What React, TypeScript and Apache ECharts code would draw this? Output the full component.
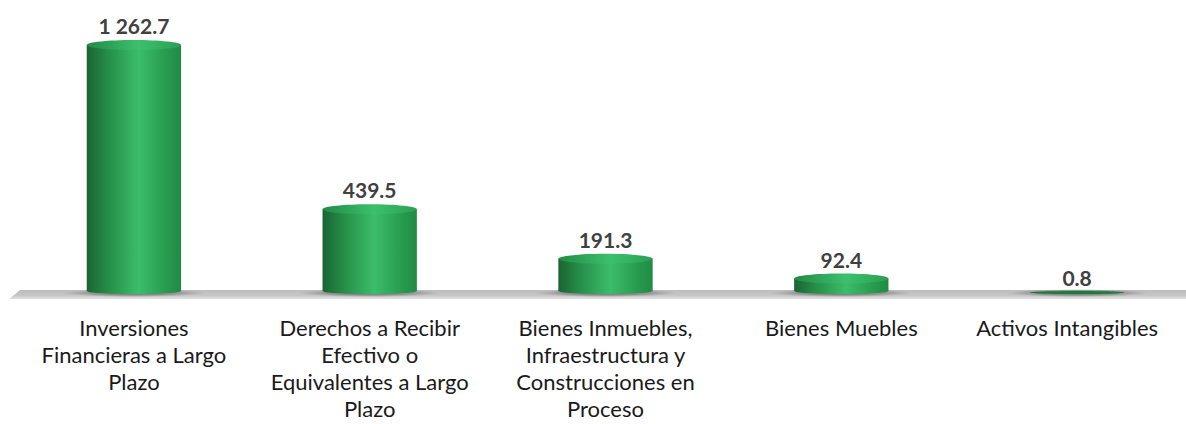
import React, { useEffect, useRef } from "react";
import * as echarts from "echarts";

const categories: string[] = [
  "Inversiones\nFinancieras a Largo\nPlazo",
  "Derechos a Recibir\nEfectivo o\nEquivalentes a Largo\nPlazo",
  "Bienes Inmuebles,\nInfraestructura y\nConstrucciones en\nProceso",
  "Bienes Muebles",
  "Activos Intangibles",
];
const values: number[] = [1262.7, 439.5, 191.3, 92.4, 0.8];

const GRID_LEFT = 16;
const GRID_WIDTH = 1179;
const GRID_TOP = 40;
const GRID_HEIGHT = 252;
const W = 1186;
const H = 424;

function fmt(v: number): string {
  const s = v.toFixed(1);
  const [i, d] = s.split(".");
  return i.replace(/\B(?=(\d{3})+(?!\d))/g, " ") + "." + d;
}

const bodyGrad = {
  type: "linear",
  x: 0,
  y: 0,
  x2: 1,
  y2: 0,
  colorStops: [
    { offset: 0, color: "#1b6332" },
    { offset: 0.2, color: "#248a45" },
    { offset: 0.55, color: "#3bbd6a" },
    { offset: 0.8, color: "#29a052" },
    { offset: 1, color: "#208a44" },
  ],
};
const capGrad = {
  type: "linear",
  x: 0,
  y: 0,
  x2: 1,
  y2: 0,
  colorStops: [
    { offset: 0, color: "#238a45" },
    { offset: 0.55, color: "#3cc06d" },
    { offset: 1, color: "#2a9f53" },
  ],
};

export default function App() {
  const ref = useRef<HTMLDivElement>(null);
  useEffect(() => {
    document.body.style.margin = "0";
    if (!ref.current) return;
    const chart = echarts.init(ref.current, undefined, { renderer: "svg" });
    const baseY = GRID_TOP + GRID_HEIGHT;
    chart.setOption({
      animation: false,
      grid: {
        left: GRID_LEFT,
        width: GRID_WIDTH,
        top: GRID_TOP,
        height: GRID_HEIGHT,
        outerBoundsMode: "none",
        containLabel: false,
      },
      graphic: [
        {
          type: "polygon",
          z: 0,
          shape: {
            points: [
              [GRID_LEFT + 4, baseY - 2],
              [W, baseY - 2],
              [W, baseY + 7],
              [GRID_LEFT - 7, baseY + 7],
            ],
          },
          style: {
            fill: {
              type: "linear",
              x: 0,
              y: 0,
              x2: 0,
              y2: 1,
              colorStops: [
                { offset: 0, color: "#bdbdbd" },
                { offset: 0.6, color: "#c6c6c6" },
                { offset: 1, color: "#e2e2e2" },
              ],
            },
          },
        },
      ],
      xAxis: {
        type: "category",
        data: categories.map((c, i) =>
          i === categories.length - 1 ? { value: c, textStyle: { padding: [0, 20, 0, 0] } } : c
        ),
        axisLine: { show: false },
        axisTick: { show: false },
        axisLabel: {
          interval: 0,
          color: "#1a1a1a",
          fontSize: 22,
          fontFamily: "Lato",
          lineHeight: 27,
          margin: 22,
        },
      },
      yAxis: { type: "value", show: false, min: 0, max: 1262.7, splitLine: { show: false } },
      series: [
        {
          type: "custom",
          z: 5,
          clip: false,
          data: values.map((v, i) => [i, v]),
          encode: { x: 0, y: 1 },
          renderItem: (params: any, api: any) => {
            const idx = api.value(0);
            const v = api.value(1);
            const top = api.coord([idx, v]);
            const base = api.coord([idx, 0]);
            const bw = api.size([1, 0])[0] * 0.4;
            const cx = top[0];
            const left = cx - bw / 2;
            const h = base[1] - top[1];
            const ry = Math.min(5, Math.max(1.5, h / 2));
            const children: any[] = [
              {
                type: "ellipse",
                shape: { cx: cx, cy: base[1] + 1, rx: bw / 2 + 24, ry: 4 },
                style: {
                  fill: {
                    type: "radial",
                    x: 0.5,
                    y: 0.5,
                    r: 0.5,
                    colorStops: [
                      { offset: 0, color: "rgba(40,40,40,0.6)" },
                      { offset: 0.6, color: "rgba(60,60,60,0.35)" },
                      { offset: 1, color: "rgba(90,90,90,0)" },
                    ],
                  },
                },
              },
            ];
            if (h > 3) {
              children.push({
                type: "ellipse",
                shape: { cx: cx, cy: base[1] - 1, rx: bw / 2, ry: 3 },
                style: { fill: bodyGrad },
              });
              children.push({
                type: "rect",
                shape: { x: left, y: top[1] + ry, width: bw, height: Math.max(0, h - ry - 1) },
                style: { fill: bodyGrad },
              });
              children.push({
                type: "ellipse",
                shape: { cx: cx, cy: top[1] + ry, rx: bw / 2, ry: ry },
                style: { fill: capGrad },
              });
            } else {
              children.push({
                type: "ellipse",
                shape: { cx: cx, cy: base[1] + 0.5, rx: bw / 2, ry: 1.6 },
                style: { fill: "#1f7a3d" },
              });
            }
            children.push({
              type: "text",
              style: {
                text: fmt(v),
                x: cx,
                y: top[1] - 4,
                textAlign: "center",
                textVerticalAlign: "bottom",
                align: "center",
                verticalAlign: "bottom",
                fill: "#404040",
                font: "bold 21px Lato",
              },
            });
            return { type: "group", children };
          },
        },
      ],
    });
    return () => chart.dispose();
  }, []);
  return <div ref={ref} style={{ width: W, height: H }} />;
}
